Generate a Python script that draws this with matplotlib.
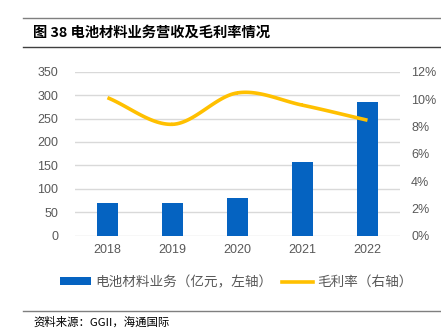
import numpy as np
import matplotlib
matplotlib.use("Agg")
import matplotlib.pyplot as plt
from matplotlib.lines import Line2D
from matplotlib.patches import Patch

plt.rcParams['font.family'] = ['Liberation Sans', 'Noto Sans CJK SC', 'DejaVu Sans']

years = ["2018", "2019", "2020", "2021", "2022"]
revenue = [70, 70, 81, 158, 285]          # 亿元
margin = [10.1, 8.15, 10.45, 9.55, 8.45]  # %

left_ticks = [0, 50, 100, 150, 200, 250, 300, 350]
right_ticks = [0, 2, 4, 6, 8, 10, 12]

BLUE = "#0563C1"
GOLD = "#FFC000"
GRID = "#D9D9D9"
TXT = "#595959"
CJK = ['Noto Sans CJK SC', 'DejaVu Sans']


def smooth(xs, ys, n=30):
    """Catmull-Rom curve through the points, like a smoothed Excel line."""
    xs = np.asarray(xs, float)
    ys = np.asarray(ys, float)
    px = np.concatenate([[2 * xs[0] - xs[1]], xs, [2 * xs[-1] - xs[-2]]])
    py = np.concatenate([[2 * ys[0] - ys[1]], ys, [2 * ys[-1] - ys[-2]]])
    ox, oy = [], []
    for i in range(1, len(px) - 2):
        t = np.linspace(0, 1, n)
        for p, out in ((px, ox), (py, oy)):
            p0, p1, p2, p3 = p[i - 1], p[i], p[i + 1], p[i + 2]
            out.extend(0.5 * ((2 * p1) + (-p0 + p2) * t
                              + (2 * p0 - 5 * p1 + 4 * p2 - p3) * t ** 2
                              + (-p0 + 3 * p1 - 3 * p2 + p3) * t ** 3))
    return np.array(ox), np.array(oy)


fig = plt.figure(figsize=(4.41, 3.35), dpi=100)
ax = fig.add_axes([0.170, 0.2964, 0.737, 0.4896])
ax2 = ax.twinx()

x = np.arange(len(years))
ax.bar(x, revenue, width=0.31, color=BLUE, zorder=3)
ax.set_xlim(-0.5, len(years) - 0.5)
ax.set_ylim(0, 350)
ax.set_yticks(left_ticks)
ax.set_xticks(x)
ax.set_xticklabels(years)
ax.yaxis.grid(True, color=GRID, linewidth=1.0, zorder=0)
ax.set_axisbelow(True)
for s in ax.spines.values():
    s.set_visible(False)
for s in ax2.spines.values():
    s.set_visible(False)
ax.tick_params(axis='both', length=0, labelsize=9, labelcolor=TXT)
ax.tick_params(axis='y', pad=12)
ax.tick_params(axis='x', pad=6)

sx, sy = smooth(x, margin)
ax2.plot(sx, sy, color=GOLD, linewidth=2.6, solid_capstyle='butt', zorder=4)
ax2.set_ylim(0, 12)
ax2.set_yticks(right_ticks)
ax2.set_yticklabels([f"{v}%" for v in right_ticks])
ax2.tick_params(axis='y', length=0, labelsize=9, labelcolor=TXT, pad=8)

# header and footer rules
fig.add_artist(Line2D([23 / 441, 1], [1 - 18.3 / 335] * 2, color="#7F7F7F", linewidth=1.0))
fig.add_artist(Line2D([23 / 441, 1], [1 - 46.7 / 335] * 2, color="#404040", linewidth=1.0))
fig.add_artist(Line2D([23 / 441, 1], [1 - 310.7 / 335] * 2, color="#7F7F7F", linewidth=1.0))

fig.text(33 / 441, 1 - 33 / 335, "图 38 电池材料业务营收及毛利率情况", fontsize=10.3,
         fontweight='bold', family=CJK, va='center', ha='left', color="#000000")
fig.text(33 / 441, 1 - 322 / 335, "资料来源：GGII，海通国际", fontsize=8.2,
         family=CJK, va='center', ha='left', color="#000000")

handles = [Patch(facecolor=BLUE, edgecolor='none'),
           Line2D([], [], color=GOLD, linewidth=2.6)]
leg = fig.legend(handles, ["电池材料业务（亿元，左轴）", "毛利率（右轴）"],
                 loc='center', bbox_to_anchor=(236.5 / 441, 1 - 282 / 335), ncol=2,
                 frameon=False, prop={'family': CJK, 'size': 9.8},
                 handlelength=2.3, handleheight=0.5, handletextpad=0.3,
                 columnspacing=0.7, labelcolor=TXT)

fig.savefig("out.png", dpi=100)
